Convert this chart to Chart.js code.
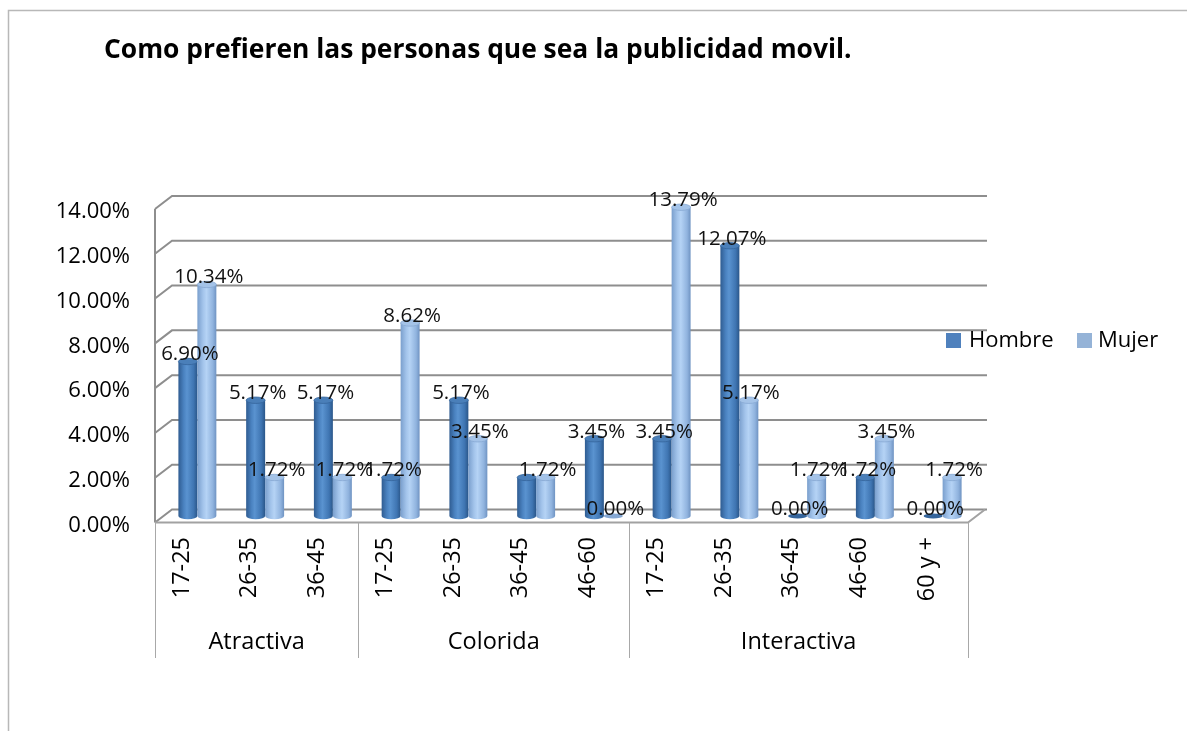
<!DOCTYPE html>
<html>
<head>
<meta charset="utf-8">
<title>Como prefieren las personas que sea la publicidad movil.</title>
<script src="https://cdn.jsdelivr.net/npm/chart.js@4"></script>
<style>
  html, body { margin: 0; padding: 0; background: #fff; }
  canvas { display: block; }
</style>
</head>
<body>
<canvas id="chart" width="1187" height="731"></canvas>
<script>
// Age ranges per preference group
const categories = ['17-25', '26-35', '36-45', '17-25', '26-35', '36-45', '46-60', '17-25', '26-35', '36-45', '46-60', '60 y +'];
const groups = ['Atractiva', 'Colorida', 'Interactiva'];
const groupSizes = [3, 4, 5];

// Percentages by sex
const hombre = [6.90, 5.17, 5.17, 1.72, 5.17, 1.72, 3.45, 3.45, 12.07, 0.00, 1.72, 0.00];
const mujer = [10.34, 1.72, 1.72, 8.62, 3.45, 1.72, 0.00, 13.79, 5.17, 1.72, 3.45, 1.72];

const yTicks = [0, 2, 4, 6, 8, 10, 12, 14];
const titleText = 'Como prefieren las personas que sea la publicidad movil.';

const FONT = '"Open Sans", "Noto Sans", sans-serif';
const DEPTH_X = 8.5;   // half depth of the 3D box, horizontal
const DEPTH_Y = 6.5;   // half depth of the 3D box, vertical

const cylinderStyles = {
  Hombre: {
    stops: [[0, '#2f5c91'], [0.28, '#4a82c0'], [0.45, '#5a93d0'], [0.8, '#3f75b2'], [1, '#2a5689']],
    cap: '#4a7fb9', capEdge: '#35659c'
  },
  Mujer: {
    stops: [[0, '#7a9fcd'], [0.3, '#a3c4eb'], [0.48, '#b5d3f5'], [0.82, '#90b3de'], [1, '#6f93c2']],
    cap: '#a4c3e8', capEdge: '#86a8d3'
  }
};

const fmtPct = v => v.toFixed(2) + '%';

const scenePlugin = {
  id: 'scene3d',
  beforeDatasetsDraw(chart) {
    const ctx = chart.ctx;
    const y = chart.scales.y;
    const area = chart.chartArea;
    const leftF = area.left - DEPTH_X, leftB = area.left + DEPTH_X;
    const rightF = area.right - DEPTH_X, rightB = area.right + DEPTH_X;

    ctx.save();
    // outer frame
    ctx.strokeStyle = '#b8b8b8';
    ctx.lineWidth = 1.5;
    ctx.beginPath();
    ctx.moveTo(8.5, 731); ctx.lineTo(8.5, 10.5); ctx.lineTo(1187, 10.5);
    ctx.stroke();

    // back wall gridlines + left wall diagonals
    ctx.strokeStyle = '#8e8e8e';
    ctx.lineWidth = 2;
    yTicks.forEach(t => {
      const py = y.getPixelForValue(t);
      ctx.beginPath();
      ctx.moveTo(leftF, py + DEPTH_Y);
      ctx.lineTo(leftB, py - DEPTH_Y);
      ctx.lineTo(rightB + 2, py - DEPTH_Y);
      ctx.stroke();
    });
    // left wall front edge
    ctx.beginPath();
    ctx.moveTo(leftF, y.getPixelForValue(yTicks[yTicks.length - 1]) + DEPTH_Y);
    ctx.lineTo(leftF, y.getPixelForValue(0) + DEPTH_Y);
    ctx.stroke();

    // floor
    const y0 = y.getPixelForValue(0);
    ctx.strokeStyle = '#a2a2a2';
    ctx.beginPath();
    ctx.moveTo(leftF, y0 + DEPTH_Y);
    ctx.lineTo(rightF, y0 + DEPTH_Y);
    ctx.lineTo(rightB, y0 - DEPTH_Y);
    ctx.stroke();

    // category group dividers below the floor
    const catW = (area.right - area.left) / categories.length;
    ctx.strokeStyle = '#a8a8a8';
    ctx.lineWidth = 1;
    let idx = 0;
    const bounds = [0];
    groupSizes.forEach(s => { idx += s; bounds.push(idx); });
    bounds.forEach(b => {
      const px = Math.round(area.left - DEPTH_X + b * catW) + 0.5;
      ctx.beginPath();
      ctx.moveTo(px, y0 + DEPTH_Y);
      ctx.lineTo(px, 658);
      ctx.stroke();
    });
    ctx.restore();
  },
  beforeDatasetDraw() {
    // bars are painted as cylinders afterwards
    return false;
  },
  afterDatasetsDraw(chart) {
    const ctx = chart.ctx;
    chart.data.datasets.forEach((ds, di) => {
      const meta = chart.getDatasetMeta(di);
      const st = cylinderStyles[ds.label];
      meta.data.forEach(bar => {
        const w = bar.width;
        const l = bar.x - w / 2, r = bar.x + w / 2;
        const top = bar.y, base = bar.base;
        const ry = 3.2;
        ctx.save();
        if (base - top < 0.5) {
          ctx.fillStyle = st.capEdge;
          ctx.beginPath();
          ctx.ellipse(bar.x, base, w / 2, ry * 0.8, 0, 0, Math.PI * 2);
          ctx.fill();
          ctx.restore();
          return;
        }
        const g = ctx.createLinearGradient(l, 0, r, 0);
        st.stops.forEach(s => g.addColorStop(s[0], s[1]));
        ctx.fillStyle = g;
        ctx.beginPath();
        ctx.moveTo(l, top);
        ctx.lineTo(l, base);
        ctx.ellipse(bar.x, base, w / 2, ry, 0, Math.PI, 0, true);
        ctx.lineTo(r, top);
        ctx.closePath();
        ctx.fill();
        // top cap
        ctx.fillStyle = st.cap;
        ctx.strokeStyle = st.capEdge;
        ctx.lineWidth = 0.8;
        ctx.beginPath();
        ctx.ellipse(bar.x, top, w / 2, ry, 0, 0, Math.PI * 2);
        ctx.fill();
        ctx.stroke();
        ctx.restore();
      });
    });

    // value labels above each cylinder; when both series share a value in a
    // category the label is written once
    ctx.save();
    ctx.font = '20.5px ' + FONT;
    ctx.fillStyle = '#111';
    ctx.textAlign = 'center';
    ctx.textBaseline = 'alphabetic';
    const sets = chart.data.datasets;
    sets.forEach((ds, di) => {
      const meta = chart.getDatasetMeta(di);
      meta.data.forEach((bar, i) => {
        const next = sets[di + 1];
        if (next && next.data[i] === ds.data[i] && ds.data[i] !== 0) return;
        ctx.fillText(fmtPct(ds.data[i]), bar.x + 2, bar.y - 1);
      });
    });
    ctx.restore();
  },
  afterDraw(chart) {
    const ctx = chart.ctx;
    const x = chart.scales.x, y = chart.scales.y;
    const area = chart.chartArea;
    ctx.save();

    // title
    ctx.font = 'bold 26.4px ' + FONT;
    ctx.fillStyle = '#000';
    ctx.textAlign = 'left';
    ctx.textBaseline = 'middle';
    ctx.fillText(titleText, 104, 50);

    // value axis
    ctx.font = '22px ' + FONT;
    ctx.textAlign = 'right';
    yTicks.forEach(t => {
      ctx.fillText(fmtPct(t), 130, y.getPixelForValue(t) + DEPTH_Y + 3);
    });

    // rotated category labels
    ctx.font = '23.5px ' + FONT;
    categories.forEach((c, i) => {
      const px = x.getPixelForValue(i) - DEPTH_X - 7;
      ctx.save();
      ctx.translate(px, 537);
      ctx.rotate(-Math.PI / 2);
      ctx.textAlign = 'right';
      ctx.textBaseline = 'middle';
      ctx.fillText(c, 0, 0);
      ctx.restore();
    });

    // group labels
    ctx.font = '23.5px ' + FONT;
    const catW = (area.right - area.left) / categories.length;
    let start = 0;
    ctx.textAlign = 'center';
    ctx.textBaseline = 'middle';
    groups.forEach((gname, gi) => {
      const end = start + groupSizes[gi];
      const cx = area.left - DEPTH_X + (start + end) / 2 * catW;
      ctx.fillText(gname, cx, 642);
      start = end;
    });

    // legend
    ctx.font = '22px ' + FONT;
    ctx.textAlign = 'left';
    const legendPos = [[946, 969], [1077, 1098]];
    chart.data.datasets.forEach((ds, di) => {
      const [bx, tx] = legendPos[di];
      ctx.fillStyle = ds.backgroundColor;
      ctx.fillRect(bx, 333, 15, 15);
      ctx.fillStyle = '#000';
      ctx.fillText(ds.label, tx, 341);
    });
    ctx.restore();
  }
};

new Chart(document.getElementById('chart'), {
  type: 'bar',
  data: {
    labels: categories,
    datasets: [
      { label: 'Hombre', data: hombre, backgroundColor: '#4f81bd' },
      { label: 'Mujer', data: mujer, backgroundColor: '#95b3d7' }
    ]
  },
  options: {
    responsive: false,
    animation: false,
    layout: { padding: { left: 163.5, right: 210.5, top: 202.5, bottom: 215 } },
    datasets: { bar: { categoryPercentage: 0.56, barPercentage: 1.0 } },
    scales: {
      x: { display: false },
      y: { display: false, min: 0, max: 14 }
    },
    plugins: { legend: { display: false }, tooltip: { enabled: false }, title: { display: false } }
  },
  plugins: [scenePlugin]
});
</script>
</body>
</html>
